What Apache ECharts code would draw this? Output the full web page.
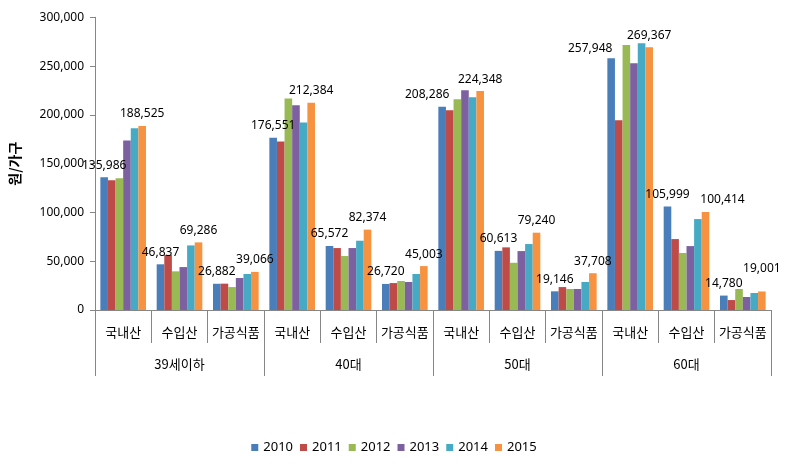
<!DOCTYPE html>
<html><head><meta charset="utf-8">
<script src="https://cdn.jsdelivr.net/npm/echarts@6/dist/echarts.min.js"></script>
<style>html,body{margin:0;padding:0;background:#fff}#c{width:788px;height:467px}</style>
</head><body><div id="c"></div>
<script>
const subCategories = ['국내산','수입산','가공식품','국내산','수입산','가공식품','국내산','수입산','가공식품','국내산','수입산','가공식품'];
const groups = ['39세이하','40대','50대','60대'];
const years = ['2010','2011','2012','2013','2014','2015'];
const yTicks = [0, 50000, 100000, 150000, 200000, 250000, 300000];

const v2010 = [135986, 46837, 26882, 176551, 65572, 26720, 208286, 60613, 19146, 257948, 105999, 14780];
const v2011 = [133000, 56500, 27000, 172700, 63500, 27600, 204800, 64200, 23500, 194500, 72700, 10200];
const v2012 = [135000, 39600, 23500, 216700, 55300, 29700, 216000, 48400, 21500, 271700, 58400, 21500];
const v2013 = [173700, 44000, 32800, 209900, 63500, 28700, 225300, 60400, 21500, 252900, 65500, 13300];
const v2014 = [186300, 66200, 36900, 192200, 71000, 36900, 218000, 67600, 28700, 273400, 93200, 17400];
const v2015 = [188525, 69286, 39066, 212384, 82374, 45003, 224348, 79240, 37708, 269367, 100414, 19001];

const seriesValues = [v2010, v2011, v2012, v2013, v2014, v2015];
const colors = ['#4A7EBB','#BE4B48','#98B954','#7D60A0','#46AAC5','#F69240'];
const labeledSeries = [0, 5];
// manual label nudges (style only)
const labelOffsets = { '0-6': [-15, 0], '0-9': [-21, 2], '5-10': [17, 0], '5-11': [0, -11] };

const fmt = v => Number(v).toLocaleString('en-US');
const numFont = 'Noto Sans, DejaVu Sans, sans-serif';
const krFont = 'Noto Sans CJK KR, Noto Sans, sans-serif';

const series = seriesValues.map((vals, si) => ({
  name: years[si],
  type: 'bar',
  xAxisIndex: 0,
  barGap: '0%',
  barCategoryGap: '19%',
  itemStyle: { color: colors[si] },
  label: {
    show: labeledSeries.includes(si),
    position: 'top',
    distance: 6,
    color: '#000',
    fontSize: 12,
    fontFamily: numFont,
    formatter: p => fmt(p.value)
  },
  data: vals.map((v, i) => {
    const off = labelOffsets[si + '-' + i];
    return off ? { value: v, label: { offset: off } } : v;
  })
}));

const chart = echarts.init(document.getElementById('c'), null, { renderer: 'canvas' });
chart.setOption({
  animation: false,
  color: colors,
  grid: { left: 92.5, right: 17, top: 17.3, bottom: 157 },
  legend: {
    data: years,
    bottom: 8,
    left: 'center',
    itemWidth: 7,
    itemHeight: 7,
    itemGap: 7,
    icon: 'rect',
    textStyle: { fontSize: 13, color: '#000', fontFamily: numFont }
  },
  xAxis: [
    {
      type: 'category',
      data: subCategories,
      position: 'bottom',
      axisLine: { show: true, lineStyle: { color: '#868686', width: 1 } },
      axisTick: { show: true, length: 33, alignWithLabel: false, lineStyle: { color: '#868686' } },
      axisLabel: { margin: 16, fontSize: 13, color: '#000', fontFamily: krFont, interval: 0 }
    },
    {
      type: 'category',
      data: groups,
      position: 'bottom',
      axisLine: { show: false },
      axisTick: { show: true, length: 66, lineStyle: { color: '#868686' } },
      axisLabel: { margin: 48, fontSize: 13, color: '#000', fontFamily: krFont, interval: 0 }
    }
  ],
  yAxis: {
    type: 'value',
    min: yTicks[0],
    max: yTicks[yTicks.length - 1],
    interval: yTicks[1] - yTicks[0],
    name: '원/가구',
    nameLocation: 'middle',
    nameGap: 73,
    nameRotate: 90,
    nameTextStyle: { fontSize: 14, fontWeight: 'bold', color: '#000', fontFamily: krFont },
    axisLine: { show: true, lineStyle: { color: '#868686' } },
    axisTick: { show: true, length: 5, lineStyle: { color: '#868686' } },
    splitLine: { show: false },
    axisLabel: { margin: 11, fontSize: 12, color: '#000', fontFamily: numFont, formatter: v => fmt(v) }
  },
  series
});
</script>
</body></html>
